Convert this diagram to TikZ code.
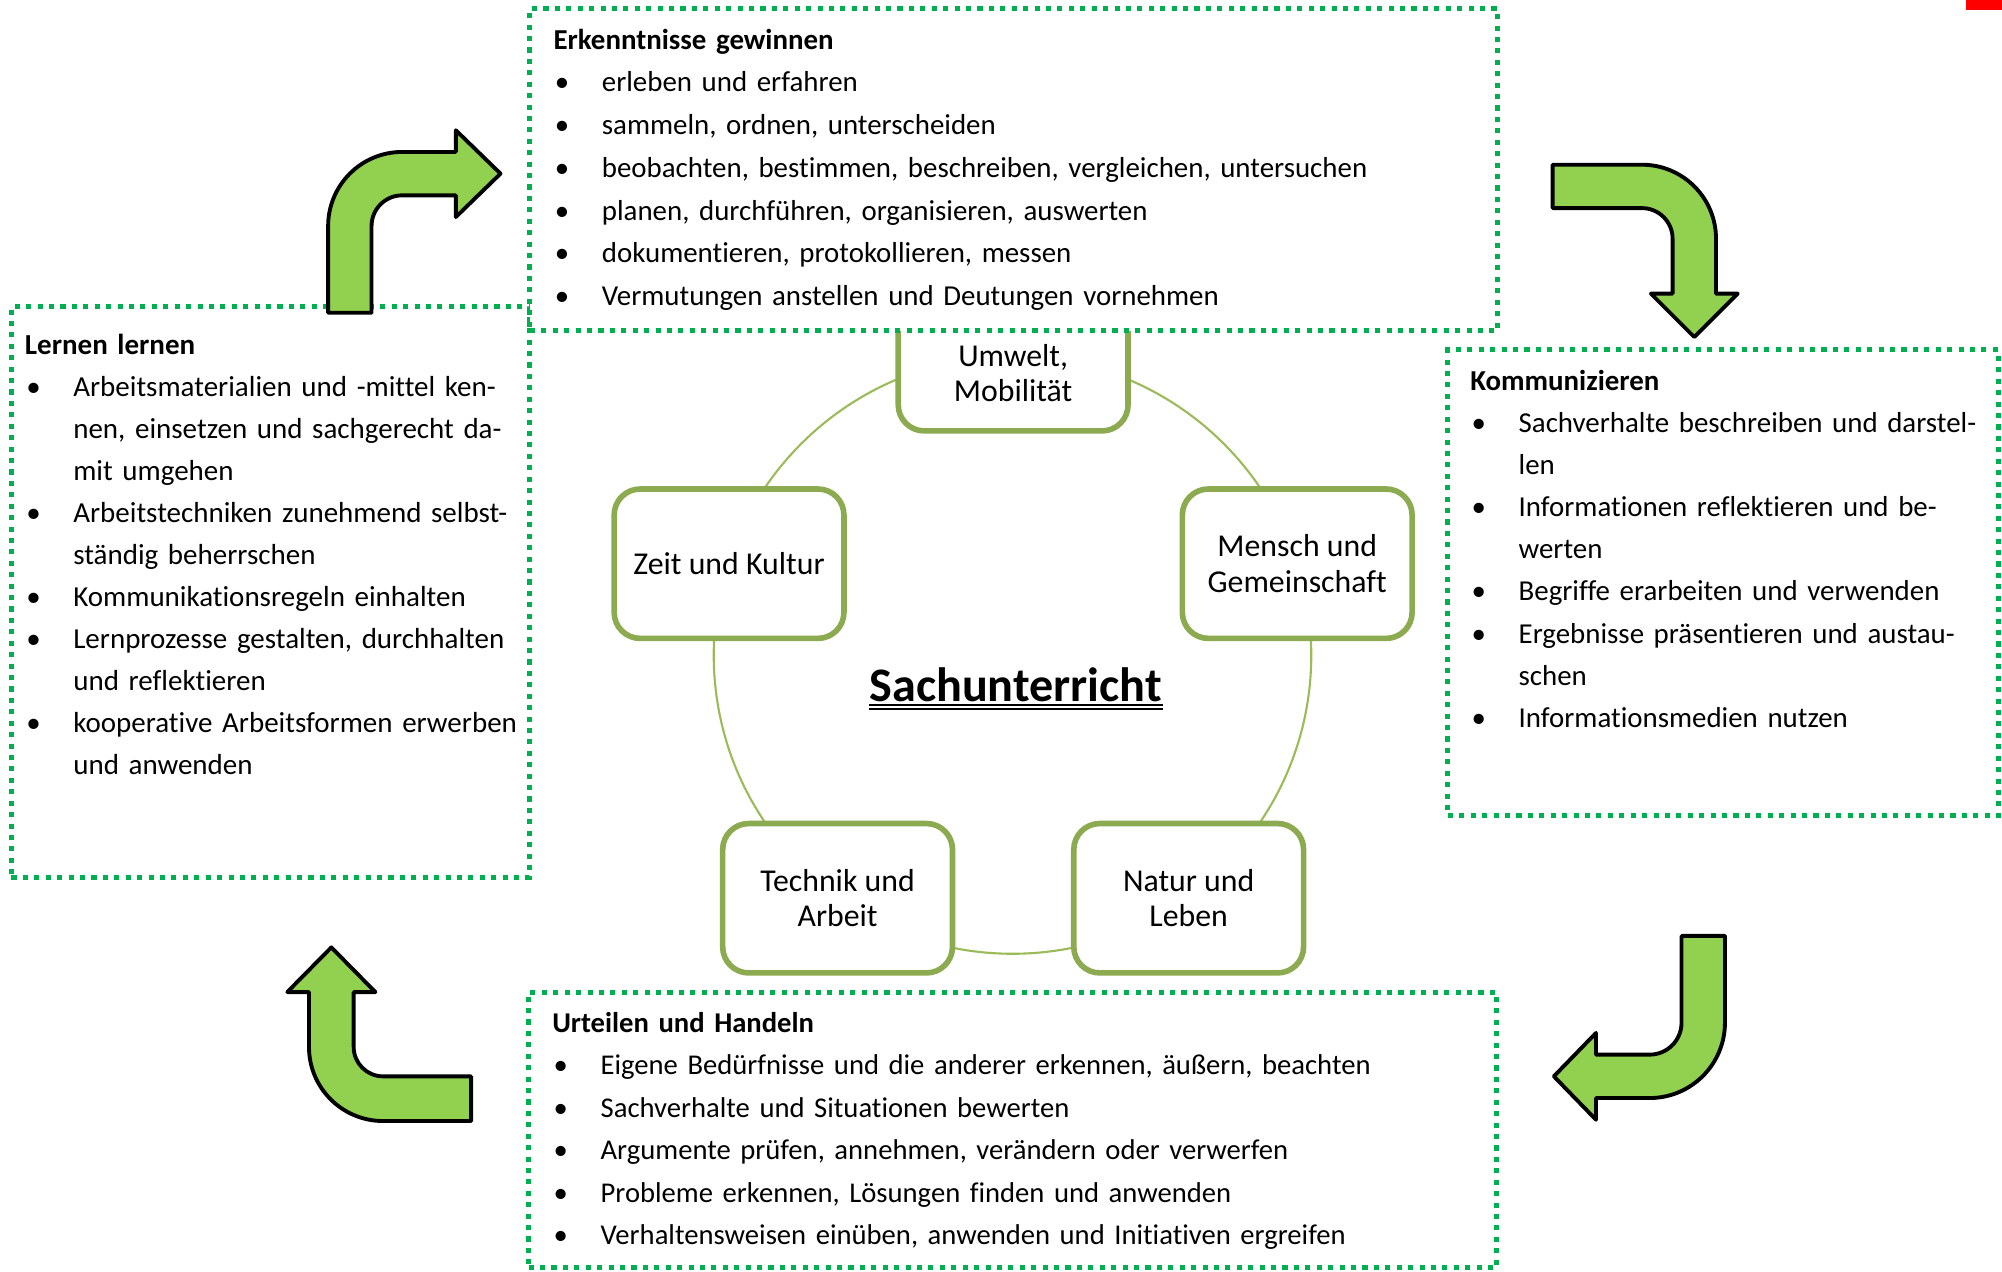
\documentclass[tikz,border=0pt]{standalone}
\usepackage{fontspec}
\setmainfont{Carlito}[Ligatures={NoCommon}]
\definecolor{framegreen}{RGB}{0,176,80}
\definecolor{arrowgreen}{RGB}{146,208,80}
\definecolor{topicgreen}{RGB}{140,170,80}
\definecolor{ringgreen}{RGB}{155,187,89}
\newcommand{\bul}{\makebox[13.76pt][l]{\hspace{0.4pt}\textbullet}}
\newcommand{\cnt}{\hspace*{13.76pt}}
\newcommand{\li}[1]{\mbox{\bul #1}}
\newcommand{\lc}[1]{\mbox{\cnt #1}}
\tikzset{
  dotframe/.style={draw=framegreen, line width=1.45pt, dash pattern=on 1.45pt off 1.8pt, inner sep=0},
  topic/.style={draw=topicgreen, fill=white, line width=1.6pt, rounded corners=2.6mm,
    minimum width=22.98mm, minimum height=14.94mm, align=center, inner sep=0,
    font=\fontsize{9.05}{10.1}\selectfont},
  boxtext/.style={anchor=base west, inner sep=0, align=left},
  bigarrow/.style={fill=arrowgreen, draw=black, line width=1.1pt, line join=round},
  ring/.style={draw=ringgreen, line width=0.6pt},
}
\begin{document}
\begin{tikzpicture}[x=0.12768mm, y=-0.12768mm]
\useasboundingbox (0,0) rectangle (1568,995.5);

% ring
\coordinate (c) at (793,513);
\draw[ring] (c) circle[radius=234];

% topic nodes
\node[topic] (umwelt) at (793.5,279) {\vphantom{Mg}\\Umwelt,\\Mobilität};
\node[topic] (zeit) at (571,441.5) {Zeit und Kultur};
\node[topic] (mensch) at (1016,441.5) {Mensch und\\Gemeinschaft};
\node[topic] (technik) at (656,703.5) {Technik und\\Arbeit};
\node[topic] (natur) at (931,703.5) {Natur und\\Leben};

% centre title
\node[inner sep=0, anchor=base, font=\bfseries\fontsize{13.7}{16}\selectfont] (sach) at (795.5,549.6) {Sachunterricht};
\draw[line width=0.5pt] ([yshift=-0.9pt]sach.base west) -- ([yshift=-0.9pt]sach.base east);
\draw[line width=0.5pt] ([yshift=-2.1pt]sach.base west) -- ([yshift=-2.1pt]sach.base east);

% frames
\node[dotframe, minimum width=51.84mm, minimum height=57.07mm] (lern) at (212,463.5) {};
\node[dotframe, minimum width=55.03mm, minimum height=46.60mm] (komm) at (1349.5,456.5) {};
\node[dotframe, minimum width=96.78mm, minimum height=27.58mm] (urt) at (793,885) {};
\node[dotframe, fill=white, minimum width=96.78mm, minimum height=32.18mm] (erk) at (794,133) {};

% texts
\node[boxtext, text width=93.5mm, font=\fontsize{8.22}{12.15}\selectfont] (erkT) at (433,38.6) {%
\textbf{Erkenntnisse gewinnen}\\
\li{erleben und erfahren}\\
\li{sammeln, ordnen, unterscheiden}\\
\li{beobachten, bestimmen, beschreiben, vergleichen, untersuchen}\\
\li{planen, durchführen, organisieren, auswerten}\\
\li{dokumentieren, protokollieren, messen}\\
\li{Vermutungen anstellen und Deutungen vornehmen}};

\node[boxtext, text width=50.3mm, font=\fontsize{8.25}{11.95}\selectfont] (lernT) at (19,277.5) {%
\textbf{Lernen lernen}\\
\li{Arbeitsmaterialien und -mittel ken-}\\
\lc{nen, einsetzen und sachgerecht da-}\\
\lc{mit umgehen}\\
\li{Arbeitstechniken zunehmend selbst-}\\
\lc{ständig beherrschen}\\
\li{Kommunikationsregeln einhalten}\\
\li{Lernprozesse gestalten, durchhalten}\\
\lc{und reflektieren}\\
\li{kooperative Arbeitsformen erwerben}\\
\lc{und anwenden}};

\node[boxtext, text width=52.2mm, font=\fontsize{8.22}{12.0}\selectfont] (kommT) at (1151,305.5) {%
\textbf{Kommunizieren}\\
\li{Sachverhalte beschreiben und darstel-}\\
\lc{len}\\
\li{Informationen reflektieren und be-}\\
\lc{werten}\\
\li{Begriffe erarbeiten und verwenden}\\
\li{Ergebnisse präsentieren und austau-}\\
\lc{schen}\\
\li{Informationsmedien nutzen}};

\node[boxtext, text width=93.6mm, font=\fontsize{8.15}{12.1}\selectfont] (urtT) at (432,808.5) {%
\textbf{Urteilen und Handeln}\\
\li{Eigene Bedürfnisse und die anderer erkennen, äußern, beachten}\\
\li{Sachverhalte und Situationen bewerten}\\
\li{Argumente prüfen, annehmen, verändern oder verwerfen}\\
\li{Probleme erkennen, Lösungen finden und anwenden}\\
\li{Verhaltensweisen einüben, anwenden und Initiativen ergreifen}};

% block arrows
\draw[bigarrow] (257,245) -- (257,177) arc[start angle=180, end angle=270, radius=58]
  -- (357,119) -- (357,102) -- (392,136) -- (357,170) -- (357,153) -- (315,153)
  arc[start angle=270, end angle=180, radius=24] -- (291,245) -- cycle;
\draw[bigarrow] (1216,129) -- (1286,129) arc[start angle=270, end angle=360, radius=58]
  -- (1344,230) -- (1361,230) -- (1327,264) -- (1293,230) -- (1310,230) -- (1310,187)
  arc[start angle=0, end angle=-90, radius=24] -- (1216,163) -- cycle;
\draw[bigarrow] (1317,733) -- (1351,733) -- (1351,801) arc[start angle=0, end angle=90, radius=59]
  -- (1250,860) -- (1250,877) -- (1217,843) -- (1250,809) -- (1250,826) -- (1292,826)
  arc[start angle=90, end angle=0, radius=25] -- cycle;
\draw[bigarrow] (369,843) -- (300,843) arc[start angle=90, end angle=180, radius=23]
  -- (277,777) -- (294,777) -- (259.5,742) -- (225,777) -- (242,777) -- (242,820)
  arc[start angle=180, end angle=90, radius=58] -- (369,878) -- cycle;

% red mark
\fill[red] (1540,0) rectangle (1568,7.8);
\end{tikzpicture}
\end{document}
